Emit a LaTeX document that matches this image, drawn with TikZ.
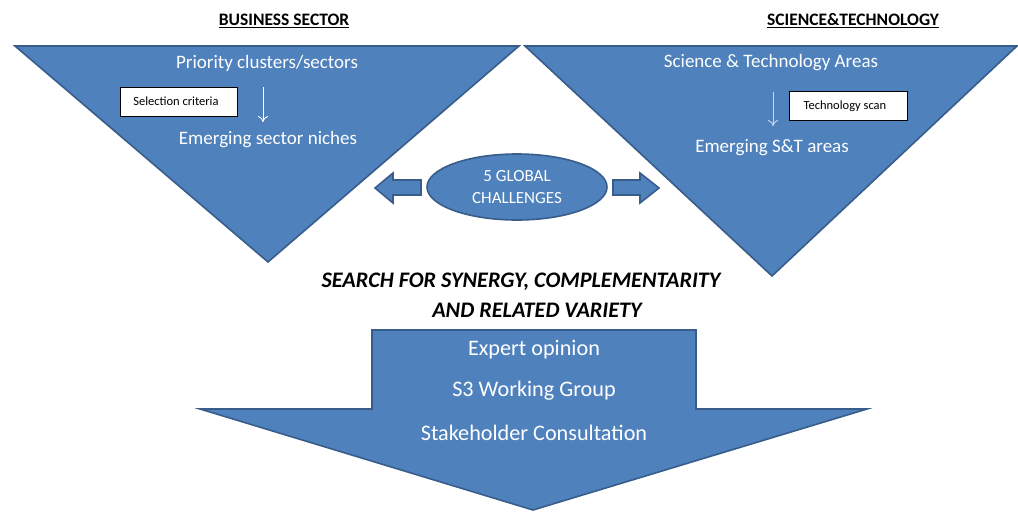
\documentclass[tikz,border=0pt]{standalone}
\usepackage{fontspec}
\setmainfont{Carlito}
\usetikzlibrary{arrows.meta,shapes.geometric}
\definecolor{fillblue}{RGB}{79,129,189}
\definecolor{edgeblue}{RGB}{56,93,138}
\definecolor{paleline}{RGB}{205,215,230}
\begin{document}
\begin{tikzpicture}[x=1pt,y=-1pt,
  blueshape/.style={fill=fillblue,draw=edgeblue,line width=1.6pt,line join=miter},
  wtext/.style={text=white,font=\fontsize{19}{22}\selectfont,inner sep=0pt},
  btext/.style={text=white,font=\fontsize{22.2}{26}\selectfont,inner sep=0pt},
  header/.style={font=\fontsize{17.5}{20}\selectfont\bfseries,inner sep=0pt},
  smallbox/.style={draw=black,fill=white,line width=0.9pt,font=\fontsize{12.5}{15}\selectfont,
    minimum height=29pt,inner sep=0pt,anchor=north west},
  flowarrow/.style={line width=0.9pt,-{To[length=6pt,width=10pt]}},
  searchtext/.style={font=\fontsize{22.2}{26}\selectfont\bfseries\itshape,inner sep=0pt}]
\useasboundingbox (0,0) rectangle (1018,512);

% headers
\node[header] (hb) at (284,21) {\underline{BUSINESS SECTOR}};
\node[header] (hs) at (853,21) {\underline{SCIENCE\&TECHNOLOGY}};

% triangles
\draw[blueshape] (15,46) -- (519,46) -- (268,262) -- cycle;
\draw[blueshape] (525,46) -- (1017,46) -- (772,276) -- cycle;

% left triangle content
\node[wtext] (pc) at (267,63) {Priority clusters/sectors};
\node[smallbox,minimum width=117pt] (sc) at (120,87) {\hspace*{-6pt}\raisebox{2pt}{Selection criteria}};
\coordinate (la1) at (263,87);
\coordinate (la2) at (263,122);
\draw[flowarrow,white] (la1) -- (la2);
\node[wtext] (es) at (268,140) {Emerging sector niches};

% right triangle content
\node[wtext] (st) at (771,63) {Science \& Technology Areas};
\coordinate (ra1) at (773,92);
\coordinate (ra2) at (773,126);
\draw[flowarrow,paleline] (ra1) -- (ra2);
\node[smallbox,minimum width=118pt] (ts) at (789,91) {\hspace*{-7pt}\raisebox{1pt}{Technology scan}};
\node[wtext] (et) at (772,148) {Emerging S\&T areas};

% global challenges
\node[blueshape,ellipse,minimum width=180pt,minimum height=66pt,inner sep=0pt,
  align=center,text=white,font=\fontsize{17}{22}\selectfont] (gc) at (517,187)
  {5 GLOBAL\\CHALLENGES};
\draw[blueshape] (421,180) -- (393,180) -- (393,173) -- (375,188) -- (393,203)
  -- (393,195) -- (421,195) -- cycle;
\draw[blueshape] (613,180) -- (640,180) -- (640,173) -- (659,188) -- (640,203)
  -- (640,195) -- (613,195) -- cycle;

% search text
\node[searchtext] (s1) at (521,282) {SEARCH FOR SYNERGY, COMPLEMENTARITY};
\node[searchtext] (s2) at (537,310) {AND RELATED VARIETY};

% big down arrow
\draw[blueshape] (372,330) -- (696,330) -- (696,409) -- (867,409) -- (533,510)
  -- (200,409) -- (372,409) -- cycle;
\node[btext] (eo) at (534,350) {Expert opinion};
\node[btext] (wg) at (534,391) {S3 Working Group};
\node[btext] (sk) at (534,433) {Stakeholder Consultation};
\end{tikzpicture}
\end{document}
